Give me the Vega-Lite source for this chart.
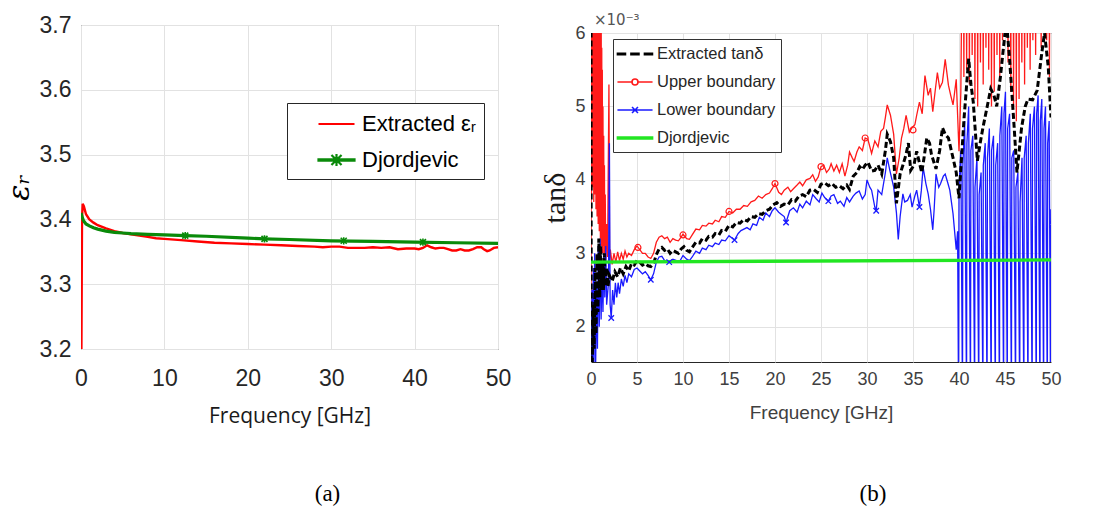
{
  "$schema": "https://vega.github.io/schema/vega-lite/v6.json",
  "background": "white",
  "padding": {"left": 3, "top": 13, "right": 0, "bottom": 0},
  "spacing": 28,
  "resolve": {"scale": {"color": "independent", "shape": "independent"}, "legend": {"color": "independent", "shape": "independent"}},
  "config": {
    "font": "Liberation Sans",
    "view": {"stroke": "#262626", "strokeWidth": 1},
    "axis": {"domain": false, "ticks": false, "gridColor": "#e2e2e2", "gridWidth": 1, "labelFont": "Liberation Sans", "titleFont": "Liberation Sans", "titleFontWeight": "normal"}
  },
  "datasets": {
    "erEx": [
      {"f": 0.05, "v": 3.2}, {"f": 0.12, "v": 3.4}, {"f": 0.2, "v": 3.424}, {"f": 0.35, "v": 3.42}, {"f": 0.6, "v": 3.408},
      {"f": 1, "v": 3.4}, {"f": 1.5, "v": 3.395}, {"f": 2, "v": 3.391}, {"f": 3, "v": 3.386}, {"f": 4, "v": 3.382},
      {"f": 5, "v": 3.379}, {"f": 6, "v": 3.377}, {"f": 7, "v": 3.375}, {"f": 8, "v": 3.373}, {"f": 9, "v": 3.371},
      {"f": 10, "v": 3.37}, {"f": 12, "v": 3.368}, {"f": 14, "v": 3.366}, {"f": 16, "v": 3.364}, {"f": 18, "v": 3.363},
      {"f": 20, "v": 3.362}, {"f": 22, "v": 3.361}, {"f": 24, "v": 3.36}, {"f": 26, "v": 3.359}, {"f": 28, "v": 3.358},
      {"f": 29, "v": 3.357}, {"f": 30, "v": 3.358}, {"f": 31, "v": 3.358}, {"f": 32, "v": 3.356}, {"f": 33, "v": 3.356},
      {"f": 34, "v": 3.356}, {"f": 35, "v": 3.357}, {"f": 36, "v": 3.356}, {"f": 37, "v": 3.357}, {"f": 38, "v": 3.354},
      {"f": 39, "v": 3.355}, {"f": 40, "v": 3.355}, {"f": 40.5, "v": 3.354}, {"f": 41, "v": 3.356}, {"f": 41.5, "v": 3.36},
      {"f": 42, "v": 3.357}, {"f": 42.5, "v": 3.355}, {"f": 43, "v": 3.356}, {"f": 43.5, "v": 3.356}, {"f": 44, "v": 3.354},
      {"f": 44.5, "v": 3.352}, {"f": 45, "v": 3.352}, {"f": 45.5, "v": 3.354}, {"f": 46, "v": 3.352}, {"f": 46.5, "v": 3.352},
      {"f": 47, "v": 3.354}, {"f": 47.5, "v": 3.357}, {"f": 48, "v": 3.357}, {"f": 48.3, "v": 3.354}, {"f": 48.7, "v": 3.351},
      {"f": 49, "v": 3.352}, {"f": 49.5, "v": 3.356}, {"f": 50, "v": 3.357}
    ],
    "erDj": [
      {"f": 0, "v": 3.41}, {"f": 0.1, "v": 3.405}, {"f": 0.3, "v": 3.398}, {"f": 0.6, "v": 3.393}, {"f": 1, "v": 3.39},
      {"f": 1.5, "v": 3.387}, {"f": 2, "v": 3.385}, {"f": 3, "v": 3.382}, {"f": 4, "v": 3.38}, {"f": 5, "v": 3.379},
      {"f": 6, "v": 3.378}, {"f": 8, "v": 3.377}, {"f": 10, "v": 3.376}, {"f": 12.5, "v": 3.375}, {"f": 15, "v": 3.374},
      {"f": 20, "v": 3.371}, {"f": 22, "v": 3.37}, {"f": 25, "v": 3.369}, {"f": 30, "v": 3.367}, {"f": 35, "v": 3.366},
      {"f": 40, "v": 3.365}, {"f": 45, "v": 3.364}, {"f": 50, "v": 3.363}
    ],
    "erDjMarks": [
      {"f": 12.5, "v": 3.375}, {"f": 22, "v": 3.37}, {"f": 31.5, "v": 3.367}, {"f": 41, "v": 3.365}
    ],
    "tdEx": [
      {"f": 0, "v": 7.0}, {"f": 0.03, "v": 1.0}, {"f": 0.15, "v": 1.6}, {"f": 0.25, "v": 2.3}, {"f": 0.35, "v": 1.7},
      {"f": 0.45, "v": 2.8}, {"f": 0.55, "v": 1.9}, {"f": 0.65, "v": 3.0}, {"f": 0.75, "v": 2.2}, {"f": 0.85, "v": 3.2},
      {"f": 0.95, "v": 2.4}, {"f": 1.05, "v": 3.1}, {"f": 1.15, "v": 2.5}, {"f": 1.25, "v": 2.9}, {"f": 1.35, "v": 2.5},
      {"f": 1.45, "v": 3.0}, {"f": 1.55, "v": 2.55}, {"f": 1.7, "v": 2.8}, {"f": 1.85, "v": 2.55}, {"f": 2.0, "v": 2.7},
      {"f": 2.3, "v": 2.62}, {"f": 2.6, "v": 2.75}, {"f": 2.9, "v": 2.68}, {"f": 3.2, "v": 2.8}, {"f": 3.5, "v": 2.72},
      {"f": 3.8, "v": 2.82}, {"f": 4.1, "v": 2.76}, {"f": 4.4, "v": 2.86}, {"f": 4.7, "v": 2.84}, {"f": 5.0, "v": 2.9},
      {"f": 5.3, "v": 2.88}, {"f": 5.6, "v": 2.84}, {"f": 5.9, "v": 2.86}, {"f": 6.2, "v": 2.83}, {"f": 6.5, "v": 2.82},
      {"f": 6.8, "v": 2.86}, {"f": 7.1, "v": 2.98}, {"f": 7.4, "v": 3.06}, {"f": 7.7, "v": 3.08}, {"f": 8.0, "v": 3.04},
      {"f": 8.3, "v": 3.06}, {"f": 8.6, "v": 3.0}, {"f": 8.9, "v": 3.04}, {"f": 9.2, "v": 3.02}, {"f": 9.5, "v": 3.0},
      {"f": 9.8, "v": 3.06}, {"f": 10.1, "v": 3.09}, {"f": 10.4, "v": 3.04}, {"f": 10.7, "v": 3.02}, {"f": 11.0, "v": 3.08},
      {"f": 11.4, "v": 3.15}, {"f": 11.8, "v": 3.14}, {"f": 12.1, "v": 3.2}, {"f": 12.5, "v": 3.18}, {"f": 12.8, "v": 3.23},
      {"f": 13.2, "v": 3.22}, {"f": 13.5, "v": 3.27}, {"f": 13.9, "v": 3.25}, {"f": 14.2, "v": 3.31}, {"f": 14.6, "v": 3.3},
      {"f": 15.0, "v": 3.38}, {"f": 15.4, "v": 3.36}, {"f": 15.8, "v": 3.42}, {"f": 16.2, "v": 3.41}, {"f": 16.6, "v": 3.46},
      {"f": 17.0, "v": 3.44}, {"f": 17.4, "v": 3.5}, {"f": 17.8, "v": 3.49}, {"f": 18.2, "v": 3.54}, {"f": 18.6, "v": 3.53},
      {"f": 19.0, "v": 3.58}, {"f": 19.4, "v": 3.6}, {"f": 19.8, "v": 3.66}, {"f": 20.2, "v": 3.69}, {"f": 20.6, "v": 3.64},
      {"f": 21.0, "v": 3.67}, {"f": 21.4, "v": 3.66}, {"f": 21.8, "v": 3.73}, {"f": 22.2, "v": 3.71}, {"f": 22.6, "v": 3.78},
      {"f": 23.0, "v": 3.8}, {"f": 23.4, "v": 3.77}, {"f": 23.8, "v": 3.86}, {"f": 24.2, "v": 3.87}, {"f": 24.6, "v": 3.83},
      {"f": 25.0, "v": 3.94}, {"f": 25.4, "v": 3.96}, {"f": 25.8, "v": 3.92}, {"f": 26.2, "v": 3.95}, {"f": 26.6, "v": 3.9},
      {"f": 27.0, "v": 3.92}, {"f": 27.4, "v": 3.88}, {"f": 27.8, "v": 3.93}, {"f": 28.1, "v": 3.87}, {"f": 28.5, "v": 4.05},
      {"f": 28.9, "v": 4.1}, {"f": 29.2, "v": 4.18}, {"f": 29.5, "v": 4.14}, {"f": 29.8, "v": 4.2}, {"f": 30.1, "v": 4.24},
      {"f": 30.5, "v": 4.12}, {"f": 30.85, "v": 4.13}, {"f": 31.2, "v": 4.2}, {"f": 31.6, "v": 4.08}, {"f": 32.0, "v": 4.4},
      {"f": 32.2, "v": 4.62}, {"f": 32.55, "v": 4.52}, {"f": 32.9, "v": 4.3}, {"f": 33.2, "v": 3.68}, {"f": 33.6, "v": 4.08},
      {"f": 33.9, "v": 4.2}, {"f": 34.25, "v": 4.35}, {"f": 34.5, "v": 4.5}, {"f": 34.75, "v": 4.13}, {"f": 35.1, "v": 4.2},
      {"f": 35.4, "v": 4.39}, {"f": 35.95, "v": 4.1}, {"f": 36.2, "v": 4.3}, {"f": 36.5, "v": 4.57}, {"f": 36.8, "v": 4.5},
      {"f": 37.0, "v": 4.35}, {"f": 37.5, "v": 4.15}, {"f": 37.9, "v": 4.4}, {"f": 38.2, "v": 4.71}, {"f": 38.5, "v": 4.62},
      {"f": 38.85, "v": 4.57}, {"f": 39.35, "v": 4.3}, {"f": 39.7, "v": 4.1}, {"f": 40.0, "v": 3.75}, {"f": 40.55, "v": 4.84},
      {"f": 41.05, "v": 5.65}, {"f": 41.3, "v": 5.3}, {"f": 41.55, "v": 5.06}, {"f": 42.0, "v": 4.26}, {"f": 42.3, "v": 4.5},
      {"f": 42.6, "v": 4.71}, {"f": 43.1, "v": 5.02}, {"f": 43.45, "v": 5.24}, {"f": 43.8, "v": 5.15}, {"f": 44.1, "v": 5.0},
      {"f": 44.5, "v": 5.4}, {"f": 45.0, "v": 6.0}, {"f": 45.2, "v": 6.1}, {"f": 45.5, "v": 5.64}, {"f": 46.0, "v": 4.71},
      {"f": 46.3, "v": 4.1}, {"f": 46.8, "v": 4.71}, {"f": 47.2, "v": 5.0}, {"f": 47.5, "v": 5.1}, {"f": 48.0, "v": 5.09},
      {"f": 48.5, "v": 5.22}, {"f": 49.0, "v": 5.73}, {"f": 49.3, "v": 6.0}, {"f": 49.7, "v": 5.54}, {"f": 50.0, "v": 4.85}
    ],
    "tdUp": [
      {"f": 0, "v": 2.0}, {"f": 0.03, "v": 7}, {"f": 0.06, "v": 3.8}, {"f": 0.09, "v": 7}, {"f": 0.12, "v": 4.2},
      {"f": 0.15, "v": 7}, {"f": 0.18, "v": 3.9}, {"f": 0.21, "v": 7}, {"f": 0.24, "v": 4.3}, {"f": 0.27, "v": 7},
      {"f": 0.3, "v": 3.7}, {"f": 0.33, "v": 7}, {"f": 0.36, "v": 4.1}, {"f": 0.39, "v": 7}, {"f": 0.42, "v": 3.8},
      {"f": 0.45, "v": 7}, {"f": 0.48, "v": 4.0}, {"f": 0.51, "v": 7}, {"f": 0.54, "v": 3.6}, {"f": 0.57, "v": 7},
      {"f": 0.6, "v": 3.9}, {"f": 0.63, "v": 7}, {"f": 0.66, "v": 3.5}, {"f": 0.69, "v": 7}, {"f": 0.72, "v": 3.8},
      {"f": 0.75, "v": 7}, {"f": 0.78, "v": 3.4}, {"f": 0.81, "v": 6.8}, {"f": 0.84, "v": 3.6}, {"f": 0.87, "v": 6.9},
      {"f": 0.9, "v": 3.3}, {"f": 0.93, "v": 6.6}, {"f": 0.96, "v": 3.5}, {"f": 0.99, "v": 6.7}, {"f": 1.02, "v": 3.2},
      {"f": 1.05, "v": 6.4}, {"f": 1.08, "v": 3.3}, {"f": 1.11, "v": 6.2}, {"f": 1.14, "v": 3.1}, {"f": 1.17, "v": 5.8},
      {"f": 1.2, "v": 3.2}, {"f": 1.23, "v": 5.5}, {"f": 1.26, "v": 3.0}, {"f": 1.3, "v": 5.0}, {"f": 1.34, "v": 3.1},
      {"f": 1.38, "v": 4.6}, {"f": 1.42, "v": 2.95}, {"f": 1.46, "v": 4.2}, {"f": 1.5, "v": 3.0}, {"f": 1.55, "v": 3.8},
      {"f": 1.6, "v": 2.9}, {"f": 1.7, "v": 3.4}, {"f": 1.8, "v": 2.95}, {"f": 1.95, "v": 5.3}, {"f": 2.02, "v": 2.9},
      {"f": 2.1, "v": 3.05}, {"f": 2.3, "v": 2.85}, {"f": 2.5, "v": 3.0}, {"f": 2.7, "v": 2.88}, {"f": 2.9, "v": 3.02},
      {"f": 3.1, "v": 2.9}, {"f": 3.3, "v": 3.0}, {"f": 3.5, "v": 2.92}, {"f": 3.7, "v": 3.03}, {"f": 3.9, "v": 2.95},
      {"f": 4.1, "v": 3.0}, {"f": 4.4, "v": 2.97}, {"f": 4.7, "v": 3.05}, {"f": 5.0, "v": 3.1}, {"f": 5.3, "v": 3.05},
      {"f": 5.6, "v": 3.0}, {"f": 5.9, "v": 3.0}, {"f": 6.2, "v": 2.95}, {"f": 6.5, "v": 2.93}, {"f": 6.8, "v": 3.0},
      {"f": 7.1, "v": 3.15}, {"f": 7.4, "v": 3.22}, {"f": 7.7, "v": 3.24}, {"f": 8.0, "v": 3.2}, {"f": 8.3, "v": 3.22},
      {"f": 8.6, "v": 3.15}, {"f": 8.9, "v": 3.2}, {"f": 9.2, "v": 3.18}, {"f": 9.5, "v": 3.17}, {"f": 9.8, "v": 3.22},
      {"f": 10.0, "v": 3.26}, {"f": 10.4, "v": 3.2}, {"f": 10.7, "v": 3.19}, {"f": 11.0, "v": 3.25}, {"f": 11.4, "v": 3.33},
      {"f": 11.8, "v": 3.32}, {"f": 12.1, "v": 3.38}, {"f": 12.5, "v": 3.37}, {"f": 12.8, "v": 3.41}, {"f": 13.2, "v": 3.4},
      {"f": 13.5, "v": 3.45}, {"f": 13.9, "v": 3.43}, {"f": 14.2, "v": 3.5}, {"f": 14.6, "v": 3.49}, {"f": 15.0, "v": 3.57},
      {"f": 15.4, "v": 3.55}, {"f": 15.8, "v": 3.6}, {"f": 16.2, "v": 3.6}, {"f": 16.6, "v": 3.65}, {"f": 17.0, "v": 3.64},
      {"f": 17.4, "v": 3.7}, {"f": 17.8, "v": 3.72}, {"f": 18.2, "v": 3.78}, {"f": 18.6, "v": 3.75}, {"f": 19.0, "v": 3.8},
      {"f": 19.4, "v": 3.82}, {"f": 19.7, "v": 3.88}, {"f": 20.0, "v": 3.95}, {"f": 20.4, "v": 3.83}, {"f": 20.7, "v": 3.8},
      {"f": 21.0, "v": 3.86}, {"f": 21.4, "v": 3.9}, {"f": 21.7, "v": 3.84}, {"f": 22.0, "v": 3.88}, {"f": 22.4, "v": 3.93},
      {"f": 22.7, "v": 3.97}, {"f": 23.0, "v": 3.92}, {"f": 23.4, "v": 4.0}, {"f": 23.8, "v": 4.02}, {"f": 24.1, "v": 4.07},
      {"f": 24.4, "v": 3.98}, {"f": 24.7, "v": 4.04}, {"f": 25.0, "v": 4.18}, {"f": 25.3, "v": 4.2}, {"f": 25.6, "v": 4.1},
      {"f": 25.9, "v": 4.15}, {"f": 26.1, "v": 4.22}, {"f": 26.4, "v": 4.12}, {"f": 26.7, "v": 4.2}, {"f": 27.0, "v": 4.1},
      {"f": 27.3, "v": 4.22}, {"f": 27.6, "v": 4.05}, {"f": 27.9, "v": 4.2}, {"f": 28.1, "v": 4.38}, {"f": 28.4, "v": 4.3},
      {"f": 28.6, "v": 4.25}, {"f": 28.9, "v": 4.38}, {"f": 29.15, "v": 4.45}, {"f": 29.5, "v": 4.4}, {"f": 29.8, "v": 4.57},
      {"f": 30.1, "v": 4.55}, {"f": 30.5, "v": 4.36}, {"f": 30.85, "v": 4.53}, {"f": 31.2, "v": 4.45}, {"f": 31.5, "v": 4.66},
      {"f": 31.8, "v": 4.7}, {"f": 32.0, "v": 4.85}, {"f": 32.2, "v": 5.02}, {"f": 32.55, "v": 4.88}, {"f": 32.9, "v": 4.62},
      {"f": 33.2, "v": 4.08}, {"f": 33.5, "v": 4.3}, {"f": 33.75, "v": 4.57}, {"f": 34.0, "v": 4.7}, {"f": 34.25, "v": 4.88},
      {"f": 34.6, "v": 4.65}, {"f": 34.9, "v": 4.71}, {"f": 35.2, "v": 4.75}, {"f": 35.4, "v": 4.88}, {"f": 35.7, "v": 5.06},
      {"f": 36.0, "v": 4.9}, {"f": 36.3, "v": 5.42}, {"f": 36.65, "v": 5.15}, {"f": 36.9, "v": 5.25}, {"f": 37.15, "v": 4.93},
      {"f": 37.4, "v": 5.2}, {"f": 37.65, "v": 5.46}, {"f": 37.9, "v": 5.25}, {"f": 38.2, "v": 5.33}, {"f": 38.5, "v": 5.64},
      {"f": 38.85, "v": 5.29}, {"f": 39.1, "v": 5.15}, {"f": 39.35, "v": 5.02}, {"f": 39.7, "v": 5.37}, {"f": 40.0, "v": 4.39},
      {"f": 40.2, "v": 5.2}, {"f": 40.3, "v": 6.6}, {"f": 40.5, "v": 6.6}, {"f": 40.53, "v": 5.4}, {"f": 40.56, "v": 6.6},
      {"f": 40.8, "v": 6.6}, {"f": 40.83, "v": 5.5}, {"f": 40.86, "v": 6.6}, {"f": 41.1, "v": 6.6}, {"f": 41.13, "v": 5.3},
      {"f": 41.16, "v": 6.6}, {"f": 41.4, "v": 6.6}, {"f": 41.43, "v": 5.7}, {"f": 41.46, "v": 6.6}, {"f": 41.7, "v": 6.6},
      {"f": 41.73, "v": 5.1}, {"f": 41.76, "v": 6.6}, {"f": 42.0, "v": 6.6}, {"f": 42.03, "v": 5.0}, {"f": 42.06, "v": 6.6},
      {"f": 42.3, "v": 6.6}, {"f": 42.33, "v": 5.6}, {"f": 42.36, "v": 6.6}, {"f": 42.6, "v": 6.6}, {"f": 42.63, "v": 5.3},
      {"f": 42.66, "v": 6.6}, {"f": 42.9, "v": 6.6}, {"f": 42.93, "v": 5.8}, {"f": 42.96, "v": 6.6}, {"f": 43.2, "v": 6.6},
      {"f": 43.23, "v": 5.5}, {"f": 43.26, "v": 6.6}, {"f": 43.5, "v": 6.6}, {"f": 43.53, "v": 5.0}, {"f": 43.56, "v": 6.6},
      {"f": 43.8, "v": 6.6}, {"f": 43.83, "v": 5.2}, {"f": 43.86, "v": 6.6}, {"f": 44.1, "v": 6.6}, {"f": 44.13, "v": 5.7},
      {"f": 44.16, "v": 6.6}, {"f": 44.4, "v": 6.6}, {"f": 44.43, "v": 5.4}, {"f": 44.46, "v": 6.6}, {"f": 44.7, "v": 6.6},
      {"f": 44.73, "v": 5.9}, {"f": 44.76, "v": 6.6}, {"f": 45.0, "v": 6.6}, {"f": 45.03, "v": 6.2}, {"f": 45.06, "v": 6.6},
      {"f": 45.3, "v": 6.6}, {"f": 45.33, "v": 5.6}, {"f": 45.36, "v": 6.6}, {"f": 45.6, "v": 6.6}, {"f": 45.63, "v": 5.2},
      {"f": 45.66, "v": 6.6}, {"f": 45.9, "v": 6.6}, {"f": 45.93, "v": 5.0}, {"f": 45.96, "v": 6.6}, {"f": 46.2, "v": 6.6},
      {"f": 46.23, "v": 4.8}, {"f": 46.26, "v": 6.6}, {"f": 46.5, "v": 6.6}, {"f": 46.53, "v": 5.1}, {"f": 46.56, "v": 6.6},
      {"f": 46.8, "v": 6.6}, {"f": 46.83, "v": 5.6}, {"f": 46.86, "v": 6.6}, {"f": 47.1, "v": 6.6}, {"f": 47.13, "v": 5.3},
      {"f": 47.16, "v": 6.6}, {"f": 47.4, "v": 6.6}, {"f": 47.43, "v": 5.8}, {"f": 47.46, "v": 6.6}, {"f": 47.7, "v": 6.6},
      {"f": 47.73, "v": 5.5}, {"f": 47.76, "v": 6.6}, {"f": 48.0, "v": 6.6}, {"f": 48.03, "v": 5.9}, {"f": 48.06, "v": 6.6},
      {"f": 48.3, "v": 6.6}, {"f": 48.33, "v": 5.7}, {"f": 48.36, "v": 6.6}, {"f": 48.6, "v": 6.6}, {"f": 48.63, "v": 6.0},
      {"f": 48.66, "v": 6.6}, {"f": 48.9, "v": 6.6}, {"f": 48.93, "v": 5.8}, {"f": 48.96, "v": 6.6}, {"f": 49.2, "v": 6.6},
      {"f": 49.23, "v": 6.1}, {"f": 49.26, "v": 6.6}, {"f": 49.5, "v": 6.6}, {"f": 49.53, "v": 5.9}, {"f": 49.56, "v": 6.6},
      {"f": 49.8, "v": 6.6}, {"f": 49.83, "v": 5.4}, {"f": 49.86, "v": 6.6}, {"f": 50.0, "v": 6.6}
    ],
    "tdLo": [
      {"f": 0, "v": 1.0}, {"f": 0.1, "v": 2.5}, {"f": 0.15, "v": 1.2}, {"f": 0.25, "v": 2.8}, {"f": 0.3, "v": 1.3},
      {"f": 0.4, "v": 3.0}, {"f": 0.5, "v": 1.4}, {"f": 0.6, "v": 2.6}, {"f": 0.7, "v": 1.7}, {"f": 0.8, "v": 3.1},
      {"f": 0.9, "v": 2.0}, {"f": 1.0, "v": 3.2}, {"f": 1.1, "v": 2.1}, {"f": 1.2, "v": 2.8}, {"f": 1.3, "v": 2.2},
      {"f": 1.4, "v": 3.0}, {"f": 1.5, "v": 2.4}, {"f": 1.6, "v": 3.1}, {"f": 1.7, "v": 2.3}, {"f": 1.9, "v": 2.6},
      {"f": 2.0, "v": 4.5}, {"f": 2.08, "v": 2.3}, {"f": 2.2, "v": 2.12}, {"f": 2.35, "v": 2.5},
      {"f": 2.5, "v": 2.3}, {"f": 2.65, "v": 2.6}, {"f": 2.8, "v": 2.4}, {"f": 2.95, "v": 2.6}, {"f": 3.1, "v": 2.45},
      {"f": 3.3, "v": 2.65}, {"f": 3.5, "v": 2.55}, {"f": 3.7, "v": 2.7}, {"f": 3.9, "v": 2.6}, {"f": 4.1, "v": 2.72},
      {"f": 4.4, "v": 2.68}, {"f": 4.7, "v": 2.78}, {"f": 5.0, "v": 2.8}, {"f": 5.3, "v": 2.76}, {"f": 5.6, "v": 2.72},
      {"f": 5.9, "v": 2.75}, {"f": 6.2, "v": 2.7}, {"f": 6.5, "v": 2.64}, {"f": 6.8, "v": 2.72}, {"f": 7.1, "v": 2.88},
      {"f": 7.4, "v": 2.95}, {"f": 7.7, "v": 2.96}, {"f": 8.0, "v": 2.9}, {"f": 8.5, "v": 2.88}, {"f": 8.9, "v": 2.92},
      {"f": 9.3, "v": 2.9}, {"f": 9.6, "v": 2.88}, {"f": 10.0, "v": 2.97}, {"f": 10.4, "v": 2.92}, {"f": 10.7, "v": 2.9},
      {"f": 11.0, "v": 2.95}, {"f": 11.4, "v": 3.03}, {"f": 11.8, "v": 3.0}, {"f": 12.1, "v": 3.07}, {"f": 12.5, "v": 3.05},
      {"f": 12.8, "v": 3.11}, {"f": 13.2, "v": 3.09}, {"f": 13.5, "v": 3.14}, {"f": 13.9, "v": 3.12}, {"f": 14.2, "v": 3.18},
      {"f": 14.6, "v": 3.17}, {"f": 15.0, "v": 3.24}, {"f": 15.6, "v": 3.18}, {"f": 16.0, "v": 3.27}, {"f": 16.3, "v": 3.31},
      {"f": 16.95, "v": 3.35}, {"f": 17.3, "v": 3.32}, {"f": 17.6, "v": 3.4}, {"f": 18.0, "v": 3.38}, {"f": 18.3, "v": 3.49},
      {"f": 18.7, "v": 3.45}, {"f": 19.0, "v": 3.55}, {"f": 19.4, "v": 3.5}, {"f": 19.7, "v": 3.58}, {"f": 20.0, "v": 3.62},
      {"f": 20.4, "v": 3.56}, {"f": 20.7, "v": 3.53}, {"f": 21.0, "v": 3.5}, {"f": 21.2, "v": 3.42}, {"f": 21.6, "v": 3.58},
      {"f": 22.0, "v": 3.62}, {"f": 22.4, "v": 3.56}, {"f": 22.7, "v": 3.67}, {"f": 23.0, "v": 3.62}, {"f": 23.4, "v": 3.71},
      {"f": 23.8, "v": 3.66}, {"f": 24.1, "v": 3.8}, {"f": 24.5, "v": 3.74}, {"f": 24.8, "v": 3.7}, {"f": 25.1, "v": 3.82},
      {"f": 25.4, "v": 3.76}, {"f": 25.8, "v": 3.71}, {"f": 26.1, "v": 3.78}, {"f": 26.4, "v": 3.8}, {"f": 26.8, "v": 3.68},
      {"f": 27.1, "v": 3.71}, {"f": 27.5, "v": 3.64}, {"f": 27.8, "v": 3.76}, {"f": 28.1, "v": 3.7}, {"f": 28.5, "v": 3.78},
      {"f": 28.8, "v": 3.82}, {"f": 29.15, "v": 3.85}, {"f": 29.5, "v": 3.74}, {"f": 29.8, "v": 3.8}, {"f": 30.0, "v": 4.0},
      {"f": 30.3, "v": 3.9}, {"f": 30.5, "v": 3.86}, {"f": 30.85, "v": 3.63}, {"f": 31.0, "v": 3.58}, {"f": 31.2, "v": 3.86},
      {"f": 31.6, "v": 3.8}, {"f": 32.0, "v": 4.1}, {"f": 32.2, "v": 4.3}, {"f": 32.5, "v": 4.12}, {"f": 32.9, "v": 3.9},
      {"f": 33.2, "v": 3.55}, {"f": 33.4, "v": 3.19}, {"f": 33.6, "v": 3.5}, {"f": 33.9, "v": 3.81}, {"f": 34.1, "v": 3.7},
      {"f": 34.4, "v": 3.72}, {"f": 34.7, "v": 3.8}, {"f": 34.9, "v": 3.63}, {"f": 35.2, "v": 3.78}, {"f": 35.4, "v": 3.86},
      {"f": 35.7, "v": 3.63}, {"f": 35.9, "v": 3.85}, {"f": 36.1, "v": 4.17}, {"f": 36.4, "v": 3.95}, {"f": 36.65, "v": 3.81},
      {"f": 36.9, "v": 3.6}, {"f": 37.15, "v": 3.32}, {"f": 37.3, "v": 3.6}, {"f": 37.5, "v": 4.08}, {"f": 37.8, "v": 3.9},
      {"f": 38.0, "v": 3.95}, {"f": 38.3, "v": 4.05}, {"f": 38.5, "v": 4.08}, {"f": 38.8, "v": 3.95}, {"f": 39.0, "v": 3.86},
      {"f": 39.35, "v": 3.54}, {"f": 39.7, "v": 3.05}, {"f": 39.85, "v": 3.3}, {"f": 39.95, "v": 1.0}, {"f": 40.0, "v": 3.9},
      {"f": 40.2, "v": 4.4}, {"f": 40.38, "v": 1.0}, {"f": 40.42, "v": 4.2}, {"f": 40.62, "v": 4.8}, {"f": 40.82, "v": 1.0},
      {"f": 40.86, "v": 4.5}, {"f": 41.05, "v": 5.0}, {"f": 41.25, "v": 1.0}, {"f": 41.29, "v": 4.4}, {"f": 41.5, "v": 4.6},
      {"f": 41.7, "v": 1.0}, {"f": 41.74, "v": 3.9}, {"f": 41.95, "v": 4.3}, {"f": 42.15, "v": 1.0}, {"f": 42.19, "v": 3.8},
      {"f": 42.4, "v": 4.1}, {"f": 42.6, "v": 1.0}, {"f": 42.64, "v": 4.2}, {"f": 42.85, "v": 4.5}, {"f": 43.05, "v": 1.0},
      {"f": 43.09, "v": 4.3}, {"f": 43.3, "v": 4.7}, {"f": 43.5, "v": 1.0}, {"f": 43.54, "v": 4.4}, {"f": 43.75, "v": 4.6},
      {"f": 43.95, "v": 1.0}, {"f": 43.99, "v": 4.2}, {"f": 44.2, "v": 4.5}, {"f": 44.4, "v": 1.0}, {"f": 44.44, "v": 4.6},
      {"f": 44.65, "v": 5.0}, {"f": 44.85, "v": 1.0}, {"f": 44.89, "v": 4.9}, {"f": 45.05, "v": 5.2}, {"f": 45.25, "v": 1.0},
      {"f": 45.29, "v": 4.7}, {"f": 45.5, "v": 4.9}, {"f": 45.7, "v": 1.0}, {"f": 45.74, "v": 4.3}, {"f": 45.95, "v": 4.4},
      {"f": 46.15, "v": 1.0}, {"f": 46.19, "v": 3.9}, {"f": 46.4, "v": 4.1}, {"f": 46.6, "v": 1.0}, {"f": 46.64, "v": 3.7},
      {"f": 46.85, "v": 4.3}, {"f": 47.05, "v": 1.0}, {"f": 47.09, "v": 4.3}, {"f": 47.3, "v": 4.6}, {"f": 47.5, "v": 1.0},
      {"f": 47.54, "v": 4.5}, {"f": 47.75, "v": 4.9}, {"f": 47.95, "v": 1.0}, {"f": 47.99, "v": 4.7}, {"f": 48.2, "v": 5.0},
      {"f": 48.4, "v": 1.0}, {"f": 48.44, "v": 4.9}, {"f": 48.6, "v": 5.15}, {"f": 48.8, "v": 1.0}, {"f": 48.84, "v": 4.8},
      {"f": 49.0, "v": 5.1}, {"f": 49.2, "v": 1.0}, {"f": 49.24, "v": 4.7}, {"f": 49.4, "v": 5.0}, {"f": 49.6, "v": 1.0},
      {"f": 49.64, "v": 4.5}, {"f": 49.8, "v": 4.8}, {"f": 49.95, "v": 1.0}, {"f": 50.0, "v": 3.6}
    ],
    "tdDj": [{"f": 0, "v": 2.88}, {"f": 50, "v": 2.91}],
    "tdUpMarks": [
      {"f": 5.1, "v": 3.08}, {"f": 10, "v": 3.25}, {"f": 15, "v": 3.57}, {"f": 20, "v": 3.95},
      {"f": 25, "v": 4.18}, {"f": 29.8, "v": 4.57}, {"f": 35, "v": 4.68}
    ],
    "tdLoMarks": [
      {"f": 2.2, "v": 2.12}, {"f": 6.5, "v": 2.64}, {"f": 8.5, "v": 2.88}, {"f": 15.6, "v": 3.18},
      {"f": 21.2, "v": 3.42}, {"f": 25.8, "v": 3.71}, {"f": 31.0, "v": 3.58}, {"f": 35.7, "v": 3.63}
    ]
  },
  "hconcat": [
    {
      "title": {"text": "(a)", "orient": "bottom", "anchor": "middle", "frame": "group", "font": "Liberation Serif", "fontSize": 23, "fontWeight": "normal", "color": "black", "offset": 57, "dx": 38},
      "width": 417,
      "height": 324,
      "encoding": {
        "x": {"field": "f", "type": "quantitative", "scale": {"domain": [0, 50], "nice": false},
          "axis": {"values": [0, 10, 20, 30, 40, 50], "labelFlush": false, "title": "Frequency [GHz]", "titleFontSize": 21, "titleColor": "#1a1a1a", "titleFont": "Open Sans", "titlePadding": 15, "labelFontSize": 23, "labelColor": "#262626", "labelPadding": 18, "grid": true}},
        "y": {"field": "v", "type": "quantitative", "scale": {"domain": [3.2, 3.7], "nice": false},
          "axis": {"values": [3.2, 3.3, 3.4, 3.5, 3.6, 3.7], "format": ".1f", "title": "εᵣ", "titleFont": "DejaVu Serif", "titleFontStyle": "italic", "titleFontSize": 30, "titleColor": "black", "titlePadding": 5, "labelFontSize": 23, "labelColor": "#262626", "labelPadding": 10, "grid": true}}
      },
      "layer": [
        {"data": {"name": "erEx"}, "mark": {"type": "line", "color": "#ff0000", "strokeWidth": 2.4, "clip": true}},
        {"data": {"name": "erDj"}, "mark": {"type": "line", "color": "#0a8a0a", "strokeWidth": 3.2, "clip": true}},
        {"data": {"name": "erDjMarks"}, "mark": {"type": "point", "shape": "M-1,-1L1,1M-1,1L1,-1M0,-1.2V1.2", "size": 36, "filled": false, "color": "#0a8a0a", "strokeWidth": 1.6, "opacity": 1}},
        {"data": {"values": []},
          "mark": {"type": "point", "filled": false, "strokeWidth": 2.2, "opacity": 1},
          "encoding": {
            "color": {"field": "s", "type": "nominal", "scale": {"domain": ["Extracted εᵣ", "Djordjevic"], "range": ["#ff0000", "#0a8a0a"]},
              "legend": {"orient": "none", "legendX": 206, "legendY": 78, "title": null, "fillColor": "white", "strokeColor": "#262626", "padding": 7.5, "symbolOffset": 28.5, "labelFontSize": 22, "labelFont": "Liberation Sans", "labelColor": "black", "symbolSize": 576, "symbolStrokeWidth": 2.2, "rowPadding": 11, "labelOffset": 12}},
            "shape": {"field": "s", "type": "nominal", "scale": {"domain": ["Extracted εᵣ", "Djordjevic"], "range": ["M-1.5,0H1.5", "M-1.5,-0.05H1.5V0.05H-1.5ZM-0.42,-0.42L0.42,0.42M-0.42,0.42L0.42,-0.42M0,-0.5V0.5"]},
              "legend": {"orient": "none", "legendX": 206, "legendY": 78, "title": null, "fillColor": "white", "strokeColor": "#262626", "padding": 7.5, "symbolOffset": 28.5, "labelFontSize": 22, "labelFont": "Liberation Sans", "labelColor": "black", "symbolSize": 576, "symbolStrokeWidth": 2.2, "rowPadding": 11, "labelOffset": 12}}
          }
        }
      ]
    },
    {
      "bounds": "flush",
      "spacing": 0,
      "vconcat": [
        {
          "title": {"text": "×10⁻³", "orient": "top", "anchor": "start", "frame": "group", "font": "DejaVu Sans", "fontSize": 15, "fontWeight": "normal", "color": "#555555", "offset": -3, "dx": 3},
          "width": 460,
          "height": 8,
          "view": {"stroke": null},
          "data": {"values": []},
          "mark": {"type": "point"},
          "encoding": {}
        },
        {
          "title": {"text": "(b)", "orient": "bottom", "anchor": "middle", "frame": "group", "font": "Liberation Serif", "fontSize": 23, "fontWeight": "normal", "color": "black", "offset": 61, "dx": 52},
          "width": 460,
          "height": 329,
          "encoding": {
            "x": {"field": "f", "type": "quantitative", "scale": {"domain": [0, 50], "nice": false},
              "axis": {"values": [0, 5, 10, 15, 20, 25, 30, 35, 40, 45, 50], "labelFlush": false, "title": "Frequency [GHz]", "titleFontSize": 19, "titleColor": "#404040", "titleFont": "Liberation Sans", "titlePadding": 15, "labelFontSize": 18, "labelColor": "#404040", "labelPadding": 8, "grid": true}},
            "y": {"field": "v", "type": "quantitative", "scale": {"domain": [1.52, 6], "nice": false},
              "axis": {"values": [2, 3, 4, 5, 6], "title": "tanδ", "titleFont": "Liberation Serif", "titleFontSize": 30, "titleColor": "#1a1a1a", "titlePadding": 4, "labelFontSize": 18, "labelColor": "#404040", "labelPadding": 6, "grid": true}}
          },
          "layer": [
            {"data": {"name": "tdUp"}, "mark": {"type": "line", "color": "#ff1a1a", "strokeWidth": 1.3, "clip": true}},
            {"data": {"name": "tdLo"}, "mark": {"type": "line", "color": "#1a1aff", "strokeWidth": 1.3, "clip": true}},
            {"data": {"name": "tdEx"}, "mark": {"type": "line", "color": "black", "strokeWidth": 3, "strokeDash": [6, 3], "clip": true}},
            {"data": {"name": "tdDj"}, "mark": {"type": "line", "color": "#22e622", "strokeWidth": 3.4, "clip": true}},
            {"data": {"name": "tdUpMarks"}, "mark": {"type": "point", "shape": "circle", "size": 36, "filled": false, "color": "#ff1a1a", "strokeWidth": 1.2, "opacity": 1}},
            {"data": {"name": "tdLoMarks"}, "mark": {"type": "point", "shape": "M-1,-1L1,1M-1,1L1,-1", "size": 30, "filled": false, "color": "#1a1aff", "strokeWidth": 1.3, "opacity": 1}},
            {"data": {"values": []},
              "mark": {"type": "point", "filled": false, "strokeWidth": 1.6, "opacity": 1},
              "encoding": {
                "color": {"field": "s", "type": "nominal", "scale": {"domain": ["Extracted tanδ", "Upper boundary", "Lower boundary", "Djordjevic"], "range": ["black", "#ff1a1a", "#1a1aff", "#22e622"]},
                  "legend": {"orient": "none", "legendX": 22, "legendY": 14, "title": null, "fillColor": "white", "strokeColor": "#333333", "padding": 5, "symbolOffset": 7, "labelFontSize": 16.5, "labelFont": "Liberation Sans", "labelColor": "#262626", "symbolSize": 324, "symbolStrokeWidth": 1.6, "rowPadding": 9, "labelOffset": 12}},
                "shape": {"field": "s", "type": "nominal", "scale": {"domain": ["Extracted tanδ", "Upper boundary", "Lower boundary", "Djordjevic"], "range": [
                    "M-1.95,-0.08H-1.06V0.08H-1.95ZM-0.45,-0.08H0.44V0.08H-0.45ZM1.05,-0.08H1.94V0.08H1.05Z",
                    "M-1.95,0H-0.33M0.33,0H1.95M-0.33,0A0.33,0.33 0 1,1 0.33,0A0.33,0.33 0 1,1 -0.33,0",
                    "M-1.95,0H1.95M-0.33,-0.33L0.33,0.33M-0.33,0.33L0.33,-0.33",
                    "M-1.95,-0.1H1.95V0.1H-1.95Z"]},
                  "legend": {"orient": "none", "legendX": 22, "legendY": 14, "title": null, "fillColor": "white", "strokeColor": "#333333", "padding": 5, "symbolOffset": 7, "labelFontSize": 16.5, "labelFont": "Liberation Sans", "labelColor": "#262626", "symbolSize": 324, "symbolStrokeWidth": 1.6, "rowPadding": 9, "labelOffset": 12}}
              }
            }
          ]
        }
      ]
    }
  ]
}
